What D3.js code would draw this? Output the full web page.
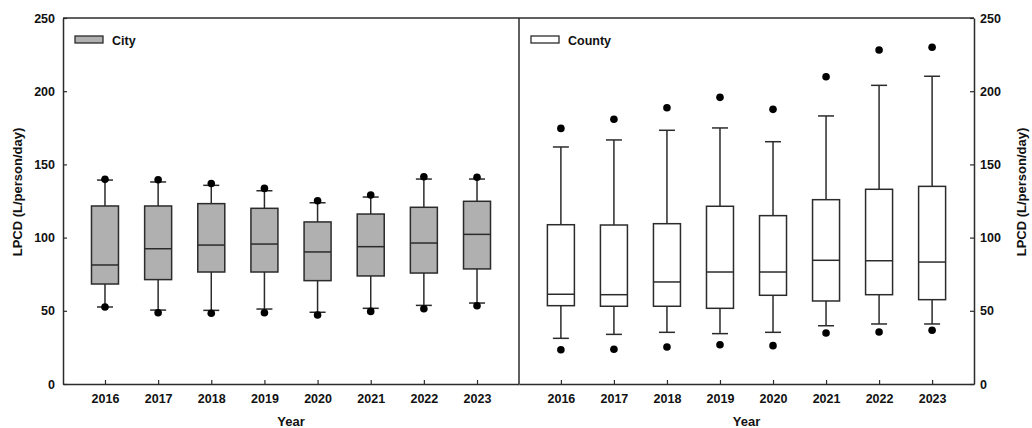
<!DOCTYPE html>
<html>
<head>
<meta charset="utf-8">
<script src="https://cdn.jsdelivr.net/npm/d3@7"></script>
<style>
  html, body { margin: 0; padding: 0; background: #fff; }
  svg { display: block; }
  text { font-family: "Liberation Sans", Arial, sans-serif; font-weight: bold; fill: #111; }
</style>
</head>
<body>
<svg id="chart" width="1032" height="428"></svg>
<script>
const years = ["2016", "2017", "2018", "2019", "2020", "2021", "2022", "2023"];
const yTicks = [0, 50, 100, 150, 200, 250];

// City
const cityLowDot  = [52.6, 48.7, 48.3, 48.7, 47.1, 49.6, 51.4, 53.5];
const cityWhiskLo = [52.6, 50.5, 50.3, 51.2, 49.0, 51.7, 53.7, 55.3];
const cityQ1      = [68.3, 71.3, 76.5, 76.5, 70.6, 73.8, 75.8, 78.6];
const cityMedian  = [81.3, 92.4, 94.9, 95.6, 90.2, 93.8, 96.3, 102.2];
const cityQ3      = [121.6, 121.6, 123.2, 120.0, 110.7, 116.1, 120.7, 124.8];
const cityWhiskHi = [139.3, 138.0, 135.7, 132.0, 123.8, 127.7, 140.0, 140.0];
const cityHighDot = [139.8, 139.5, 137.0, 133.6, 125.2, 129.1, 141.6, 141.2];

// County
const countyLowDot  = [23.4, 23.7, 25.3, 26.8, 26.2, 34.8, 35.5, 36.7];
const countyWhiskLo = [31.2, 33.9, 35.3, 34.4, 35.3, 39.8, 41.0, 41.0];
const countyQ1      = [53.5, 53.1, 53.1, 51.7, 60.6, 56.7, 61.0, 57.6];
const countyMedian  = [61.3, 61.0, 69.7, 76.5, 76.5, 84.5, 84.2, 83.3];
const countyQ3      = [108.8, 108.6, 109.5, 121.4, 115.0, 125.9, 133.0, 135.0];
const countyWhiskHi = [161.9, 166.7, 173.3, 174.9, 165.5, 183.1, 204.0, 210.2];
const countyHighDot = [174.6, 180.8, 188.7, 195.8, 187.6, 209.9, 228.1, 230.0];

const seriesNames = ["City", "County"];
const yLabel = "LPCD (L/person/day)";
const xLabel = "Year";

const svg = d3.select("#chart");
const lineColor = "#2b2b2b";
const plotTop = 18, plotBottom = 384;
const leftX0 = 63, midX = 519, rightX1 = 974;

const y = d3.scaleLinear().domain([0, 250]).range([plotBottom, plotTop]);

function build(lowDot, wLo, q1, med, q3, wHi, hiDot) {
  return years.map((yr, i) => ({ yr, lowDot: lowDot[i], wLo: wLo[i], q1: q1[i], med: med[i], q3: q3[i], wHi: wHi[i], hiDot: hiDot[i] }));
}
const panels = [
  { name: seriesNames[0], x0: leftX0, x1: midX, fill: "#b0b0b0", data: build(cityLowDot, cityWhiskLo, cityQ1, cityMedian, cityQ3, cityWhiskHi, cityHighDot) },
  { name: seriesNames[1], x0: midX, x1: rightX1, fill: "#ffffff", data: build(countyLowDot, countyWhiskLo, countyQ1, countyMedian, countyQ3, countyWhiskHi, countyHighDot) }
];

const boxW = 27, capW = 16, dotR = 3.8;

panels.forEach((p, pi) => {
  const x = d3.scalePoint().domain(years).range([p.x0, p.x1]).padding(0.79);
  const g = svg.append("g");

  // bottom axis
  const xa = g.append("g").attr("transform", `translate(0,${plotBottom})`)
    .call(d3.axisBottom(x).tickSizeInner(-4).tickSizeOuter(0).tickPadding(10));
  xa.select(".domain").attr("stroke", lineColor).attr("stroke-width", 1.5);
  xa.selectAll(".tick line").attr("stroke", lineColor).attr("stroke-width", 1.2);
  xa.selectAll(".tick text").attr("font-size", 12.5).attr("font-family", "Liberation Sans, Arial, sans-serif").attr("font-weight", "bold").attr("fill", "#111");

  // top line
  g.append("line").attr("x1", p.x0).attr("x2", p.x1).attr("y1", plotTop).attr("y2", plotTop)
    .attr("stroke", lineColor).attr("stroke-width", 1.5);

  // x label
  g.append("text").attr("x", (p.x0 + p.x1) / 2).attr("y", 426).attr("text-anchor", "middle")
    .attr("font-size", 13).text(xLabel);

  const items = g.selectAll(".bx").data(p.data).enter().append("g").attr("class", "bx");
  // whisker vertical
  items.append("line").attr("x1", d => x(d.yr)).attr("x2", d => x(d.yr))
    .attr("y1", d => y(d.wLo)).attr("y2", d => y(d.wHi))
    .attr("stroke", lineColor).attr("stroke-width", 1.5);
  // caps
  items.append("line").attr("x1", d => x(d.yr) - capW / 2).attr("x2", d => x(d.yr) + capW / 2)
    .attr("y1", d => y(d.wLo)).attr("y2", d => y(d.wLo))
    .attr("stroke", lineColor).attr("stroke-width", 1.5);
  items.append("line").attr("x1", d => x(d.yr) - capW / 2).attr("x2", d => x(d.yr) + capW / 2)
    .attr("y1", d => y(d.wHi)).attr("y2", d => y(d.wHi))
    .attr("stroke", lineColor).attr("stroke-width", 1.5);
  // box
  items.append("rect").attr("x", d => x(d.yr) - boxW / 2).attr("width", boxW)
    .attr("y", d => y(d.q3)).attr("height", d => y(d.q1) - y(d.q3))
    .attr("fill", p.fill).attr("stroke", lineColor).attr("stroke-width", 1.5);
  // median
  items.append("line").attr("x1", d => x(d.yr) - boxW / 2).attr("x2", d => x(d.yr) + boxW / 2)
    .attr("y1", d => y(d.med)).attr("y2", d => y(d.med))
    .attr("stroke", lineColor).attr("stroke-width", 1.5);
  // outlier dots
  items.append("circle").attr("cx", d => x(d.yr)).attr("cy", d => y(d.lowDot)).attr("r", dotR).attr("fill", "#000");
  items.append("circle").attr("cx", d => x(d.yr)).attr("cy", d => y(d.hiDot)).attr("r", dotR).attr("fill", "#000");

  // legend
  const lx = p.x0 + 12;
  g.append("rect").attr("x", lx).attr("y", 36).attr("width", 28).attr("height", 7)
    .attr("fill", p.fill).attr("stroke", lineColor).attr("stroke-width", 1.3);
  g.append("text").attr("x", lx + 37).attr("y", 45).attr("font-size", 12.5).text(p.name);
});

// left y axis
const ya = svg.append("g").attr("transform", `translate(${leftX0},0)`)
  .call(d3.axisLeft(y).tickValues(yTicks).tickSizeInner(-4).tickSizeOuter(0).tickPadding(8));
// right y axis
const yb = svg.append("g").attr("transform", `translate(${rightX1},0)`)
  .call(d3.axisRight(y).tickValues(yTicks).tickSizeInner(-4).tickSizeOuter(0).tickPadding(6));
[ya, yb].forEach(a => {
  a.select(".domain").attr("stroke", lineColor).attr("stroke-width", 1.5);
  a.selectAll(".tick line").attr("stroke", lineColor).attr("stroke-width", 1.2);
  a.selectAll(".tick text").attr("font-size", 12.5).attr("font-family", "Liberation Sans, Arial, sans-serif").attr("font-weight", "bold").attr("fill", "#111");
});

// divider
svg.append("line").attr("x1", midX).attr("x2", midX).attr("y1", plotTop).attr("y2", plotBottom)
  .attr("stroke", lineColor).attr("stroke-width", 1.5);

// y labels
svg.append("text").attr("transform", "translate(22,192) rotate(-90)").attr("text-anchor", "middle")
  .attr("font-size", 13).text(yLabel);
svg.append("text").attr("transform", "translate(1026,192) rotate(-90)").attr("text-anchor", "middle")
  .attr("font-size", 13).text(yLabel);
</script>
</body>
</html>
